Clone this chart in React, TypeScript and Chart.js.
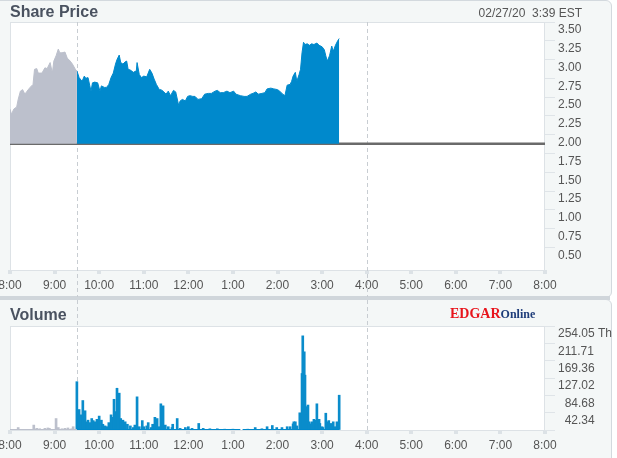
import React, { useEffect, useRef } from "react";
import { Chart, registerables } from "chart.js";

Chart.register(...registerables);

// ---- tick labels / axes ----
const hourTicks = [0, 60, 120, 180, 240, 300, 360, 420, 480, 540, 600, 660, 720];
const hourLabels = ["8:00", "9:00", "10:00", "11:00", "12:00", "1:00", "2:00", "3:00", "4:00", "5:00", "6:00", "7:00", "8:00"];
const priceTicks = [0.5, 0.75, 1.0, 1.25, 1.5, 1.75, 2.0, 2.25, 2.5, 2.75, 3.0, 3.25, 3.5];
const volumeTicks = [0, 42.34, 84.68, 127.02, 169.36, 211.71, 254.05];
const sessionMarks = [90, 480]; // 9:30 open, 4:00 close (minutes after 8:00)
const prevClose = 1.88;

// ---- share price (minutes after 8:00) ----
const preTimes = [0, 2, 5, 9, 11, 14, 17, 20, 23, 27, 31, 33, 36, 38, 43, 47, 50, 54, 57, 59, 62, 65, 67, 70, 74, 77, 81, 84, 88, 90];
const prePrices = [2.34, 2.27, 2.34, 2.37, 2.47, 2.58, 2.6, 2.54, 2.58, 2.63, 2.67, 2.87, 2.88, 2.82, 2.82, 2.89, 2.88, 2.96, 2.82, 2.98, 3.05, 3.14, 3.09, 3.09, 3.1, 3.02, 2.98, 2.94, 2.87, 2.85];

const regTimes = [90, 93, 97, 100, 102, 105, 109, 111, 114, 118, 121, 123, 127, 130, 133, 136, 139, 142, 144, 147, 149, 152, 155, 157, 159, 162, 166, 170, 171, 174, 177, 180, 184, 188, 191, 194, 197, 201, 203, 206, 210, 213, 216, 220, 223, 227, 229, 232, 236, 239, 242, 246, 249, 253, 258, 262, 267, 271, 276, 279, 283, 287, 292, 296, 301, 304, 310, 315, 319, 324, 327, 331, 334, 339, 343, 346, 351, 355, 360, 363, 367, 370, 373, 377, 379, 381, 384, 386, 389, 391, 393, 395, 397, 400, 403, 406, 409, 413, 416, 420, 423, 425, 427, 430, 433, 435, 438, 441, 443];
const regPrices = [2.85, 2.76, 2.71, 2.78, 2.75, 2.76, 2.58, 2.69, 2.7, 2.69, 2.58, 2.65, 2.63, 2.63, 2.67, 2.76, 2.82, 2.94, 3.0, 3.06, 2.96, 2.94, 2.97, 2.98, 2.87, 2.86, 2.83, 2.85, 2.96, 2.8, 2.76, 2.78, 2.77, 2.87, 2.82, 2.74, 2.67, 2.6, 2.6, 2.58, 2.54, 2.58, 2.52, 2.59, 2.57, 2.39, 2.45, 2.47, 2.45, 2.51, 2.52, 2.51, 2.51, 2.47, 2.48, 2.54, 2.55, 2.55, 2.58, 2.59, 2.56, 2.56, 2.58, 2.56, 2.58, 2.54, 2.52, 2.51, 2.51, 2.54, 2.55, 2.57, 2.54, 2.55, 2.56, 2.61, 2.62, 2.61, 2.6, 2.58, 2.54, 2.52, 2.66, 2.67, 2.71, 2.78, 2.83, 2.71, 2.8, 2.87, 3.09, 3.23, 3.2, 3.21, 3.19, 3.21, 3.2, 3.22, 3.19, 3.17, 3.13, 3.05, 2.98, 3.05, 3.18, 3.11, 3.19, 3.25, 3.28];

// ---- volume (thousands) ----
const preVolTimes = [11, 32, 36, 40, 47, 51, 53, 62, 65, 70, 74, 78, 83, 85];
const preVolumes = [6, 12, 4, 3, 4, 5, 4, 28, 6, 3, 4, 5, 3, 8];
const regVolTimes = [90, 92, 93, 96, 98, 100, 101, 104, 105, 108, 110, 112, 114, 117, 120, 123, 125, 128, 131, 133, 136, 137, 140, 143, 144, 145, 147, 149, 152, 155, 158, 162, 166, 168, 171, 174, 178, 180, 184, 186, 190, 192, 195, 198, 201, 203, 206, 209, 213, 218, 219, 225, 229, 236, 240, 245, 254, 260, 269, 279, 289, 300, 320, 330, 339, 346, 353, 359, 366, 373, 377, 381, 382, 384, 386, 390, 393, 394, 396, 397, 398, 400, 401, 402, 405, 406, 409, 412, 413, 416, 417, 420, 421, 425, 427, 429, 432, 435, 437, 440, 443];
const regVolumes = [118, 28, 50, 37, 72, 41, 47, 20, 24, 18, 28, 23, 20, 26, 34, 24, 14, 10, 8, 18, 37, 31, 75, 45, 102, 47, 90, 28, 24, 20, 14, 10, 6, 12, 81, 8, 23, 8, 10, 18, 6, 14, 31, 28, 8, 64, 59, 12, 8, 6, 14, 28, 4, 6, 8, 4, 16, 4, 3, 3, 2, 2, 2, 6, 3, 8, 11, 6, 6, 8, 8, 15, 20, 20, 10, 42, 138, 230, 191, 134, 57, 37, 61, 20, 15, 20, 26, 24, 64, 26, 16, 8, 6, 41, 20, 23, 16, 20, 8, 20, 85];

const GRAY = "#bcc0cc";
const BLUE = "#0089cc";
const FONT = '"Liberation Sans", Arial, sans-serif';

const pts = (xs: number[], ys: number[]) => xs.map((x, i) => ({ x, y: ys[i] }));

const framePlugin = {
  id: "frame",
  beforeDraw(chart: any) {
    const { ctx, chartArea: a } = chart;
    ctx.save();
    ctx.fillStyle = "#ffffff";
    ctx.fillRect(a.left, a.top, a.right - a.left, a.bottom - a.top);
    ctx.restore();
  },
  beforeDatasetsDraw(chart: any) {
    const { ctx, chartArea: a } = chart;
    ctx.save();
    ctx.strokeStyle = "#dde2e6";
    ctx.lineWidth = 1;
    ctx.strokeRect(a.left + 0.5, a.top + 0.5, a.right - a.left - 1, a.bottom - a.top);
    ctx.restore();
  },
};

const sessionPlugin = {
  id: "session",
  beforeDatasetsDraw(chart: any, _args: any, opts: any) {
    const { ctx, chartArea: a } = chart;
    const xs = chart.scales.x;
    const y0 = opts.fromTop ? 0 : a.top;
    const y1 = opts.fromTop ? a.bottom : chart.height;
    ctx.save();
    ctx.setLineDash([4, 3]);
    ctx.strokeStyle = "#c8cdd2";
    ctx.lineWidth = 1;
    for (const m of sessionMarks) {
      const px = Math.round(xs.getPixelForValue(m)) + 0.5;
      ctx.beginPath();
      ctx.moveTo(px, y0);
      ctx.lineTo(px, y1);
      ctx.stroke();
    }
    ctx.restore();
  },
};

const xAxis = (height: number) => ({
  type: "linear",
  min: 0,
  max: 720,
  offset: false,
  afterBuildTicks: (s: any) => {
    s.ticks = hourTicks.map((v) => ({ value: v }));
  },
  afterFit: (s: any) => {
    s.height = height;
    s.paddingLeft = 0;
    s.paddingRight = 0;
  },
  border: { display: false },
  grid: { offset: false, drawOnChartArea: false, drawTicks: true, tickLength: 4, lineWidth: 4, color: "#dce2e6" },
  ticks: {
    autoSkip: false,
    maxRotation: 0,
    padding: 4,
    color: "#555",
    font: { family: FONT, size: 12 },
    callback: (_v: any, i: number) => hourLabels[i],
  },
});

export default function App() {
  const priceRef = useRef<HTMLCanvasElement>(null);
  const volRef = useRef<HTMLCanvasElement>(null);

  useEffect(() => {
    const priceChart = new Chart(priceRef.current as HTMLCanvasElement, {
      type: "line",
      data: {
        datasets: [
          {
            data: pts(preTimes, prePrices),
            borderColor: GRAY,
            backgroundColor: GRAY,
            borderWidth: 1,
            pointRadius: 0,
            fill: { value: prevClose },
          },
          {
            data: pts(regTimes, regPrices),
            borderColor: BLUE,
            backgroundColor: BLUE,
            borderWidth: 1,
            pointRadius: 0,
            fill: { value: prevClose },
          },
          {
            data: [
              { x: 0, y: prevClose },
              { x: 720, y: prevClose },
            ],
            borderColor: "#6a6a6a",
            borderWidth: 2.5,
            pointRadius: 0,
            fill: false,
          },
        ],
      } as any,
      options: {
        responsive: false,
        animation: false,
        events: [],
        layout: { padding: { left: 10, top: 22, right: 0, bottom: 0 } },
        plugins: {
          legend: { display: false },
          tooltip: { enabled: false },
          session: { fromTop: false },
        } as any,
        scales: {
          x: xAxis(27) as any,
          y: {
            type: "linear",
            position: "right",
            min: 0.2,
            max: 3.5,
            afterBuildTicks: (s: any) => {
              s.ticks = priceTicks.map((v) => ({ value: v }));
            },
            afterFit: (s: any) => {
              s.width = 67;
              s.paddingTop = 0;
              s.paddingBottom = 0;
            },
            border: { display: false },
            grid: { drawOnChartArea: false, drawTicks: true, tickLength: 10, color: "#dfe4e8" },
            ticks: {
              autoSkip: false,
              padding: 3,
              labelOffset: 8,
              color: "#555",
              font: { family: FONT, size: 12 },
              callback: (v: any) => Number(v).toFixed(2),
            },
          } as any,
        },
      },
      plugins: [framePlugin, sessionPlugin],
    });

    const volChart = new Chart(volRef.current as HTMLCanvasElement, {
      type: "bar",
      data: {
        datasets: [
          {
            type: "line",
            data: [
              { x: 0, y: 0 },
              { x: 90, y: 0 },
            ],
            borderColor: GRAY,
            borderWidth: 2,
            pointRadius: 0,
            fill: false,
          },
          {
            type: "line",
            data: [
              { x: 90, y: 0 },
              { x: 310, y: 0 },
              { x: 311, y: null },
              { x: 313, y: 0 },
              { x: 443, y: 0 },
            ],
            borderColor: BLUE,
            borderWidth: 2,
            pointRadius: 0,
            fill: false,
            spanGaps: false,
          },
          {
            type: "bar",
            data: pts(preVolTimes, preVolumes),
            backgroundColor: GRAY,
            barThickness: 2,
            grouped: false,
          },
          {
            type: "bar",
            data: pts(regVolTimes, regVolumes),
            backgroundColor: "#0a8ccb",
            barThickness: 2,
            grouped: false,
          },
        ],
      } as any,
      options: {
        responsive: false,
        animation: false,
        events: [],
        layout: { padding: { left: 10, top: 26, right: 0, bottom: 0 } },
        plugins: {
          legend: { display: false },
          tooltip: { enabled: false },
          session: { fromTop: true },
        } as any,
        scales: {
          x: xAxis(28) as any,
          y: {
            type: "linear",
            position: "right",
            min: 0,
            max: 254.05,
            afterBuildTicks: (s: any) => {
              s.ticks = volumeTicks.map((v) => ({ value: v }));
            },
            afterFit: (s: any) => {
              s.width = 67;
              s.paddingTop = 0;
              s.paddingBottom = 0;
            },
            border: { display: false },
            grid: { drawOnChartArea: false, drawTicks: true, tickLength: 10, color: "#dfe4e8" },
            ticks: {
              autoSkip: false,
              padding: 3,
              labelOffset: 8,
              color: "#555",
              font: { family: FONT, size: 12 },
              callback: (v: any, i: number) => {
                if (Number(v) === 0) return "";
                let s = Number(v).toFixed(2);
                while (s.length < 6) s = "\u2007" + s;
                return i === volumeTicks.length - 1 ? s + " Th" : s;
              },
            },
          } as any,
        },
      },
      plugins: [framePlugin, sessionPlugin],
    });

    return () => {
      priceChart.destroy();
      volChart.destroy();
    };
  }, []);

  const panel: React.CSSProperties = {
    position: "absolute",
    left: -6,
    width: 618,
    background: "#f4f7f7",
    border: "1px solid #d3d9de",
    borderRadius: 6,
    boxSizing: "border-box",
  };

  return (
    <div
      style={{
        position: "absolute",
        left: 0,
        top: 0,
        width: 617,
        height: 458,
        overflow: "hidden",
        background: "#ffffff",
        fontFamily: FONT,
      }}
    >
      <div style={{ ...panel, top: 0, height: 298 }} />
      <div style={{ ...panel, top: 299, height: 170 }} />
      <div style={{ position: "absolute", left: 0, top: 296, width: 610, height: 4, background: "#d0d6db" }} />

      <canvas ref={priceRef} width={612} height={297} style={{ position: "absolute", left: 0, top: 0 }} />
      <canvas ref={volRef} width={612} height={158} style={{ position: "absolute", left: 0, top: 300 }} />

      <div
        style={{
          position: "absolute",
          left: 10,
          top: 3,
          fontSize: 16,
          fontWeight: "bold",
          color: "#4a5260",
          lineHeight: "18px",
        }}
      >
        Share Price
      </div>
      <div
        style={{
          position: "absolute",
          right: 35,
          top: 6,
          fontSize: 12,
          color: "#555",
          lineHeight: "14px",
          whiteSpace: "pre",
        }}
      >
        {"02/27/20  3:39 EST"}
      </div>
      <div
        style={{
          position: "absolute",
          left: 10,
          top: 306,
          fontSize: 16,
          fontWeight: "bold",
          color: "#4a5260",
          lineHeight: "18px",
        }}
      >
        Volume
      </div>
      <div
        style={{
          position: "absolute",
          left: 450,
          top: 305,
          whiteSpace: "nowrap",
          fontFamily: '"Liberation Serif", "Times New Roman", serif',
          fontWeight: "bold",
          lineHeight: "16px",
        }}
      >
        <span style={{ color: "#e8141c", fontSize: 14 }}>EDGAR</span>
        <span style={{ color: "#1f3d7a", fontSize: 12 }}>Online</span>
      </div>
    </div>
  );
}
